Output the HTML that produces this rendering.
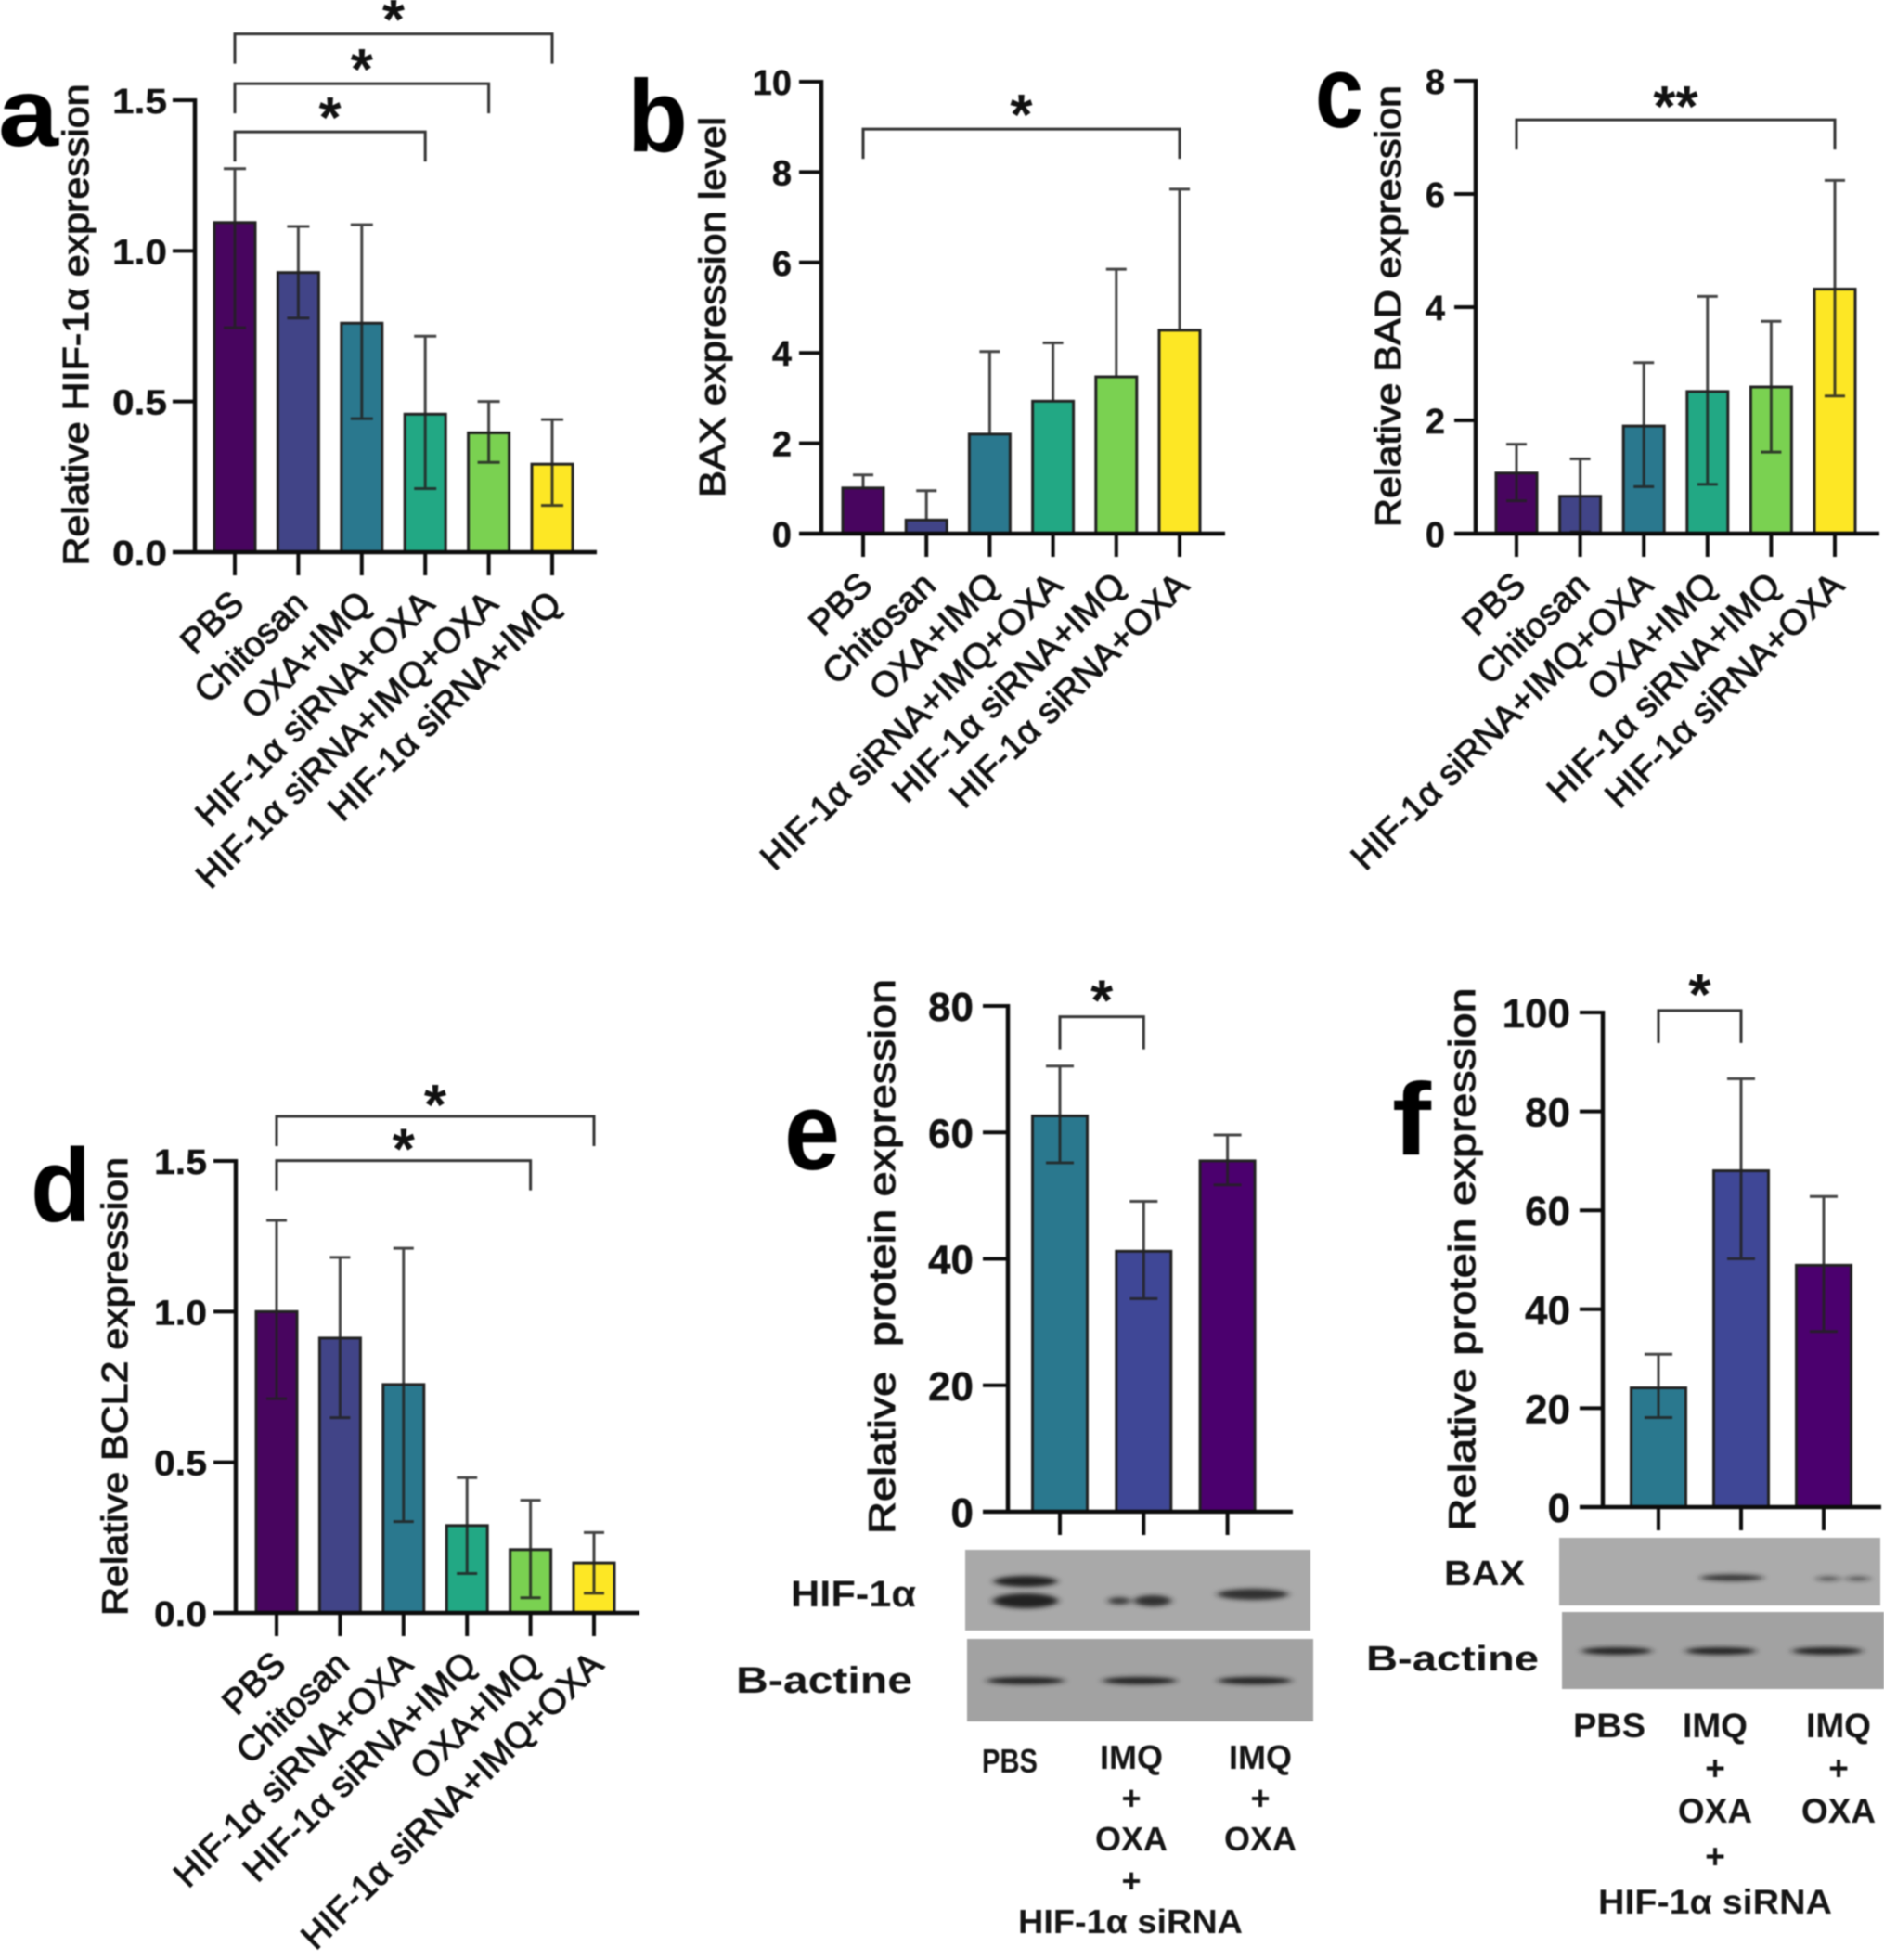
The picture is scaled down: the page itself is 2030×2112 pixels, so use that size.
<!DOCTYPE html>
<html lang="en">
<head>
<meta charset="utf-8">
<title>HIF-1α expression panels</title>
<style>
html,body{margin:0;padding:0;background:#fff;}
#figure{display:block;width:2030px;height:2112px;filter:blur(0.7px);font-family:"Liberation Sans",sans-serif;}
.cond{font-weight:bold;fill:#151515;font-family:"Liberation Sans",sans-serif;}
</style>
</head>
<body>
<svg id="figure" xmlns="http://www.w3.org/2000/svg" width="2030" height="2112" viewBox="0 0 2030 2112">
<defs>
<filter id="band-blur" x="-20%" y="-150%" width="140%" height="400%"><feGaussianBlur stdDeviation="4 2.5"/></filter>
</defs>
<rect width="2030" height="2112" fill="#fff"/>

<g>
<rect x="1040" y="1670" width="372" height="87" fill="#a9a9a9"/>
<rect x="1042" y="1766" width="373" height="89" fill="#a2a2a2"/>
<g filter="url(#band-blur)" fill="#222">
<ellipse cx="1105" cy="1704" rx="34" ry="6"/>
<ellipse cx="1105" cy="1725" rx="35" ry="8"/>
<ellipse cx="1206" cy="1725" rx="12" ry="4" opacity=".8"/>
<ellipse cx="1242" cy="1725" rx="20" ry="6" opacity=".9"/>
<ellipse cx="1350" cy="1718" rx="38" ry="6" opacity=".9"/>
<ellipse cx="1105" cy="1811" rx="42" ry="4"/>
<ellipse cx="1228" cy="1811" rx="40" ry="4"/>
<ellipse cx="1352" cy="1811" rx="40" ry="4"/>
</g>
</g>
<g>
<rect x="1680" y="1657" width="346" height="73" fill="#ababab"/>
<rect x="1683" y="1737" width="347" height="83" fill="#a2a2a2"/>
<g filter="url(#band-blur)" fill="#222">
<ellipse cx="1866" cy="1700" rx="34" ry="3.5" opacity=".85"/>
<ellipse cx="1970" cy="1701" rx="13" ry="2.5" opacity=".6"/>
<ellipse cx="2002" cy="1701" rx="13" ry="2.5" opacity=".6"/>
<ellipse cx="1742" cy="1779" rx="38" ry="4"/>
<ellipse cx="1854" cy="1779" rx="38" ry="4"/>
<ellipse cx="1969" cy="1779" rx="38" ry="4"/>
</g>
</g>

<g>
<text class="cond" x="852" y="1731" font-size="40" textLength="135" lengthAdjust="spacingAndGlyphs">HIF-1α</text>
<text class="cond" x="793" y="1824" font-size="40" textLength="190" lengthAdjust="spacingAndGlyphs">B-actine</text>
<text class="cond" x="1058" y="1910" font-size="36" textLength="60" lengthAdjust="spacingAndGlyphs">PBS</text>
<text class="cond" x="1219" y="1906" font-size="36" text-anchor="middle">IMQ</text>
<text class="cond" x="1219" y="1950" font-size="36" text-anchor="middle">+</text>
<text class="cond" x="1219" y="1994" font-size="36" text-anchor="middle">OXA</text>
<text class="cond" x="1219" y="2039" font-size="36" text-anchor="middle">+</text>
<text class="cond" x="1218" y="2083" font-size="36" text-anchor="middle" textLength="242" lengthAdjust="spacingAndGlyphs">HIF-1α siRNA</text>
<text class="cond" x="1358" y="1906" font-size="36" text-anchor="middle">IMQ</text>
<text class="cond" x="1358" y="1950" font-size="36" text-anchor="middle">+</text>
<text class="cond" x="1358" y="1994" font-size="36" text-anchor="middle">OXA</text>
</g>
<g>
<text class="cond" x="1556" y="1708" font-size="38" textLength="87" lengthAdjust="spacingAndGlyphs">BAX</text>
<text class="cond" x="1472" y="1800" font-size="38" textLength="186" lengthAdjust="spacingAndGlyphs">B-actine</text>
<text class="cond" x="1734" y="1872" font-size="37" text-anchor="middle" textLength="78" lengthAdjust="spacingAndGlyphs">PBS</text>
<text class="cond" x="1848" y="1872" font-size="37" text-anchor="middle">IMQ</text>
<text class="cond" x="1848" y="1918" font-size="37" text-anchor="middle">+</text>
<text class="cond" x="1848" y="1964" font-size="37" text-anchor="middle">OXA</text>
<text class="cond" x="1848" y="2013" font-size="37" text-anchor="middle">+</text>
<text class="cond" x="1848" y="2062" font-size="37" text-anchor="middle" textLength="252" lengthAdjust="spacingAndGlyphs">HIF-1α siRNA</text>
<text class="cond" x="1981" y="1872" font-size="37" text-anchor="middle">IMQ</text>
<text class="cond" x="1981" y="1918" font-size="37" text-anchor="middle">+</text>
<text class="cond" x="1981" y="1964" font-size="37" text-anchor="middle">OXA</text>
</g>
</svg>

<script>
// Panel a
const categoriesA = ['PBS','Chitosan','OXA+IMQ','HIF-1α siRNA+OXA','HIF-1α siRNA+IMQ+OXA','HIF-1α siRNA+IMQ'];
const valuesA = [1.094,0.928,0.76,0.458,0.396,0.292];
const errorHighA = [1.273,1.081,1.087,0.717,0.5,0.44];
const errorLowA = [0.745,0.777,0.443,0.211,0.298,0.155];
const tickValuesA = [0,0.5,1,1.5];
const tickLabelsA = ['0.0','0.5','1.0','1.5'];
const bracketFromA = [0,0,0];
const bracketToA = [5,4,3];
const bracketLevelA = [1.72,1.555,1.395];
const bracketMarkA = ['*','*','*'];
// Panel b
const categoriesB = ['PBS','Chitosan','OXA+IMQ','HIF-1α siRNA+IMQ+OXA','HIF-1α siRNA+IMQ','HIF-1α siRNA+OXA'];
const valuesB = [1.01,0.3,2.2,2.93,3.47,4.5];
const errorHighB = [1.3,0.95,4.03,4.22,5.85,7.62];
const errorLowB = [null,null,null,null,null,null];
const tickValuesB = [0,2,4,6,8,10];
const tickLabelsB = ['0','2','4','6','8','10'];
const bracketFromB = [0];
const bracketToB = [5];
const bracketLevelB = [8.95];
const bracketMarkB = ['*'];
// Panel c
const categoriesC = ['PBS','Chitosan','HIF-1α siRNA+IMQ+OXA','OXA+IMQ','HIF-1α siRNA+IMQ','HIF-1α siRNA+OXA'];
const valuesC = [1.07,0.66,1.9,2.51,2.59,4.32];
const errorHighC = [1.58,1.32,3.02,4.19,3.75,6.24];
const errorLowC = [0.58,0.03,0.83,0.87,1.44,2.43];
const tickValuesC = [0,2,4,6,8];
const tickLabelsC = ['0','2','4','6','8'];
const bracketFromC = [0];
const bracketToC = [5];
const bracketLevelC = [7.31];
const bracketMarkC = ['**'];
// Panel d
const categoriesD = ['PBS','Chitosan','HIF-1α siRNA+OXA','HIF-1α siRNA+IMQ','OXA+IMQ','HIF-1α siRNA+IMQ+OXA'];
const valuesD = [1.0,0.912,0.758,0.29,0.21,0.166];
const errorHighD = [1.303,1.18,1.21,0.449,0.374,0.267];
const errorLowD = [0.711,0.648,0.303,0.131,0.05,0.065];
const tickValuesD = [0,0.5,1,1.5];
const tickLabelsD = ['0.0','0.5','1.0','1.5'];
const bracketFromD = [0,0];
const bracketToD = [5,4];
const bracketLevelD = [1.648,1.501];
const bracketMarkD = ['*','*'];
// Panel e
const categoriesE = ['PBS','IMQ+OXA+HIF-1α siRNA','IMQ+OXA'];
const valuesE = [62.6,41.2,55.5];
const errorHighE = [70.5,49.1,59.6];
const errorLowE = [55.2,33.7,51.7];
const tickValuesE = [0,20,40,60,80];
const tickLabelsE = ['0','20','40','60','80'];
const bracketFromE = [0];
const bracketToE = [1];
const bracketLevelE = [78.3];
const bracketMarkE = ['*'];
// Panel f
const categoriesF = ['PBS','IMQ+OXA+HIF-1α siRNA','IMQ+OXA'];
const valuesF = [24.1,68,48.9];
const errorHighF = [30.9,86.6,62.8];
const errorLowF = [18.1,50.2,35.5];
const tickValuesF = [0,20,40,60,80,100];
const tickLabelsF = ['0','20','40','60','80','100'];
const bracketFromF = [0];
const bracketToF = [1];
const bracketLevelF = [100.4];
const bracketMarkF = ['*'];

const viridisSix = ['#48055f','#414487','#2a788e','#22a884','#7ad151','#fde725'];
const threeColours = ['#2a788e','#3f4796','#4b006e'];

const svg = document.getElementById('figure');
const NS = 'http://www.w3.org/2000/svg';

function make(tag, attrs, parent, text) {
  const node = document.createElementNS(NS, tag);
  for (const key in attrs) node.setAttribute(key, attrs[key]);
  if (text !== undefined) node.textContent = text;
  parent.appendChild(node);
  return node;
}

function drawPanel(p) {
  const group = make('g', {}, svg);
  
  

  const yScale = function (v) { return p.baseY - v * (p.baseY - p.topY) / p.yMax; };
  const xScale = function (i) { return p.firstX + i * p.stepX; };

  p.values.forEach(function (v, i) {
    const bar = make('rect', {
      x: xScale(i) - p.barW / 2, y: yScale(v), width: p.barW, height: p.baseY - yScale(v),
      fill: p.colours[i], stroke: '#222', 'stroke-width': 3
    }, group);
    
    
  });

  p.values.forEach(function (v, i) {
    const cx = xScale(i);
    const low = p.low[i] === null ? v : p.low[i];
    const path = 'M' + (cx - p.cap) + ' ' + yScale(p.high[i]) + 'H' + (cx + p.cap) +
      'M' + cx + ' ' + yScale(p.high[i]) + 'V' + yScale(low) +
      (p.low[i] === null ? '' : 'M' + (cx - p.cap) + ' ' + yScale(low) + 'H' + (cx + p.cap));
    const whisker = make('path', {d: path, fill: 'none', stroke: '#222', 'stroke-width': 3, 'stroke-opacity': 0.85}, group);
    
    
  });

  const yAxis = make('line', {x1: p.baseX, x2: p.baseX, y1: p.topY - 2, y2: p.baseY + 2, stroke: '#0c0c0c', 'stroke-width': 4.5}, group);
  
  

  const xAxis = make('line', {x1: p.tickLeft, x2: p.axisEnd, y1: p.baseY, y2: p.baseY, stroke: '#0c0c0c', 'stroke-width': 4.5}, group);
  
  

  p.tickValues.forEach(function (v, i) {
    const y = yScale(v);
    if (v !== 0) {
      const tick = make('line', {x1: p.tickLeft, x2: p.baseX, y1: y, y2: y, stroke: '#0c0c0c', 'stroke-width': 4}, group);
      
      
    }
    const tickText = make('text', {
      x: p.numRight, y: y + p.numDrop, 'font-size': p.numSize, 'font-weight': 'bold',
      'text-anchor': 'end', fill: '#111', stroke: '#111', 'stroke-width': 0.4
    }, group, p.tickLabels[i]);
    if (p.numLen) {
      tickText.setAttribute('textLength', p.numLen);
      tickText.setAttribute('lengthAdjust', 'spacingAndGlyphs');
    }
    
    
  });

  p.categories.forEach(function (name, i) {
    const cx = xScale(i);
    const tick = make('line', {x1: cx, x2: cx, y1: p.baseY, y2: p.baseY + 25, stroke: '#0c0c0c', 'stroke-width': 4}, group);
    
    
    if (p.showCategories) {
      const ax = cx + 12;
      const ay = p.baseY + p.labelDrop;
      const cat = make('text', {
        x: ax, y: ay, 'font-size': 38.5, 'text-anchor': 'end', fill: '#111', stroke: '#111', 'stroke-width': 1,
        transform: 'rotate(-44.5 ' + ax + ' ' + ay + ')'
      }, group, name);
      
      
    }
  });

  p.bracketFrom.forEach(function (from, k) {
    const x1 = xScale(from);
    const x2 = xScale(p.bracketTo[k]);
    const y = yScale(p.bracketLevel[k]);
    const bracket = make('path', {
      d: 'M' + x1 + ' ' + (y + p.drop) + 'V' + y + 'H' + x2 + 'V' + (y + p.drop),
      fill: 'none', stroke: '#333', 'stroke-width': 3
    }, group);
    
    
    const star = make('text', {
      x: (x1 + x2) / 2, y: y + p.starDrop, 'font-size': 62, 'font-weight': 'bold', 'text-anchor': 'middle', fill: '#111'
    }, group, p.bracketMark[k]);
    
    
  });

  const title = make('text', {
    x: p.titleX, y: p.titleY, 'font-size': p.titleSize, 'text-anchor': 'middle', fill: '#111',
    stroke: '#111', 'stroke-width': 1.1, textLength: p.titleLen, lengthAdjust: 'spacingAndGlyphs',
    style: 'white-space:pre',
    transform: 'rotate(-90 ' + p.titleX + ' ' + p.titleY + ')'
  }, group, p.title);
  
  

  const letter = make('text', {
    x: p.letterX, y: p.letterY, 'font-size': p.letterSize, 'font-weight': 'bold', fill: '#000',
    textLength: p.letterW, lengthAdjust: 'spacingAndGlyphs'
  }, group, p.letter);
  
  
}

drawPanel({
  categories: categoriesA, values: valuesA, high: errorHighA, low: errorLowA, tickValues: tickValuesA, tickLabels: tickLabelsA,
  bracketFrom: bracketFromA, bracketTo: bracketToA, bracketLevel: bracketLevelA, bracketMark: bracketMarkA,
  colours: viridisSix, yMax: 1.5, baseX: 210, baseY: 595, topY: 108, tickLeft: 186, axisEnd: 643,
  firstX: 253, stepX: 68.4, barW: 44, cap: 12, drop: 32, starDrop: 6, numRight: 180, numDrop: 14, numSize: 38, numLen: 59, showCategories: true, labelDrop: 58,
  title: 'Relative HIF-1α expression', titleX: 95, titleY: 350, titleSize: 39, titleLen: 519,
  letter: 'a', letterX: -2, letterY: 157, letterSize: 104, letterW: 65
});
drawPanel({
  categories: categoriesB, values: valuesB, high: errorHighB, low: errorLowB, tickValues: tickValuesB, tickLabels: tickLabelsB,
  bracketFrom: bracketFromB, bracketTo: bracketToB, bracketLevel: bracketLevelB, bracketMark: bracketMarkB,
  colours: viridisSix, yMax: 10, baseX: 885, baseY: 575, topY: 88, tickLeft: 861, axisEnd: 1320,
  firstX: 930, stepX: 68.2, barW: 44, cap: 11, drop: 32, starDrop: 6, numRight: 853, numDrop: 14, numSize: 38, showCategories: true, labelDrop: 58,
  title: 'BAX expression level', titleX: 781, titleY: 331, titleSize: 39, titleLen: 410,
  letter: 'b', letterX: 676, letterY: 163, letterSize: 110, letterW: 65
});
drawPanel({
  categories: categoriesC, values: valuesC, high: errorHighC, low: errorLowC, tickValues: tickValuesC, tickLabels: tickLabelsC,
  bracketFrom: bracketFromC, bracketTo: bracketToC, bracketLevel: bracketLevelC, bracketMark: bracketMarkC,
  colours: viridisSix, yMax: 8, baseX: 1590, baseY: 575, topY: 87, tickLeft: 1567, axisEnd: 2025,
  firstX: 1634, stepX: 68.6, barW: 44, cap: 11, drop: 32, starDrop: 7, numRight: 1557, numDrop: 14, numSize: 38, showCategories: true, labelDrop: 58,
  title: 'Relative BAD expression', titleX: 1509, titleY: 330, titleSize: 39, titleLen: 476,
  letter: 'c', letterX: 1417, letterY: 137, letterSize: 110, letterW: 52
});
drawPanel({
  categories: categoriesD, values: valuesD, high: errorHighD, low: errorLowD, tickValues: tickValuesD, tickLabels: tickLabelsD,
  bracketFrom: bracketFromD, bracketTo: bracketToD, bracketLevel: bracketLevelD, bracketMark: bracketMarkD,
  colours: viridisSix, yMax: 1.5, baseX: 254, baseY: 1738, topY: 1251, tickLeft: 230, axisEnd: 689,
  firstX: 298, stepX: 68.4, barW: 44, cap: 11, drop: 32, starDrop: 9, numRight: 223, numDrop: 14, numSize: 38, numLen: 57, showCategories: true, labelDrop: 58,
  title: 'Relative BCL2 expression', titleX: 137, titleY: 1494, titleSize: 39, titleLen: 494,
  letter: 'd', letterX: 33, letterY: 1316, letterSize: 112, letterW: 65
});
drawPanel({
  categories: categoriesE, values: valuesE, high: errorHighE, low: errorLowE, tickValues: tickValuesE, tickLabels: tickLabelsE,
  bracketFrom: bracketFromE, bracketTo: bracketToE, bracketLevel: bracketLevelE, bracketMark: bracketMarkE,
  colours: threeColours, yMax: 80, baseX: 1086, baseY: 1629, topY: 1084, tickLeft: 1059, axisEnd: 1393,
  firstX: 1142, stepX: 90.3, barW: 59, cap: 15, drop: 35, starDrop: 4, numRight: 1049, numDrop: 16, numSize: 44, showCategories: false, labelDrop: 0,
  title: 'Relative  protein expression', titleX: 964, titleY: 1354, titleSize: 40, titleLen: 598,
  letter: 'e', letterX: 845, letterY: 1260, letterSize: 120, letterW: 60
});
drawPanel({
  categories: categoriesF, values: valuesF, high: errorHighF, low: errorLowF, tickValues: tickValuesF, tickLabels: tickLabelsF,
  bracketFrom: bracketFromF, bracketTo: bracketToF, bracketLevel: bracketLevelF, bracketMark: bracketMarkF,
  colours: threeColours, yMax: 100, baseX: 1727, baseY: 1624, topY: 1091, tickLeft: 1702, axisEnd: 2027,
  firstX: 1787, stepX: 89, barW: 59, cap: 15, drop: 35, starDrop: 4, numRight: 1692, numDrop: 16, numSize: 44, showCategories: false, labelDrop: 0,
  title: 'Relative protein expression', titleX: 1589, titleY: 1357, titleSize: 40, titleLen: 585,
  letter: 'f', letterX: 1500, letterY: 1244, letterSize: 110, letterW: 42
});
</script>
</body>
</html>
